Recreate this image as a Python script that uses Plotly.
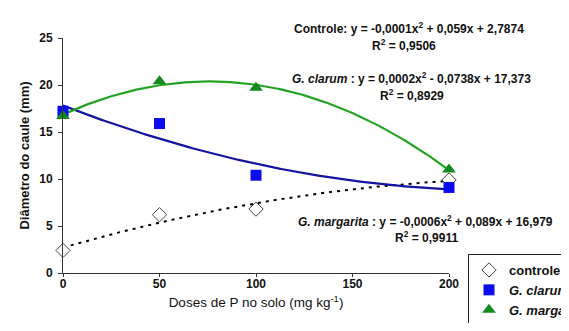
import numpy as np
import plotly.graph_objects as go

doses = [0, 50, 100, 200]
controle = [2.4, 6.2, 6.8, 9.9]
clarum = [17.2, 15.9, 10.4, 9.1]
margarita = [16.7, 20.4, 19.7, 11.0]

x_ticks = [0, 50, 100, 150, 200]
y_ticks = [0, 5, 10, 15, 20, 25]

xs = np.linspace(0, 200, 201)

def fit(y):
    c = np.polyfit(doses, y, 2)
    return np.polyval(c, xs)

FONT = "Liberation Sans, Arial, sans-serif"

fig = go.Figure()
fig.add_trace(go.Scatter(x=xs, y=fit(controle), mode="lines",
                         line=dict(color="black", width=2, dash="3px,5px"),
                         showlegend=False, hoverinfo="skip", cliponaxis=False))
fig.add_trace(go.Scatter(x=xs, y=fit(clarum), mode="lines",
                         line=dict(color="#1414a0", width=2.2),
                         showlegend=False, hoverinfo="skip", cliponaxis=False))
fig.add_trace(go.Scatter(x=xs, y=fit(margarita), mode="lines",
                         line=dict(color="#22a322", width=2.2),
                         showlegend=False, hoverinfo="skip", cliponaxis=False))
fig.add_trace(go.Scatter(x=doses, y=controle, mode="markers", name="<b>controle</b>",
                         marker=dict(symbol="diamond", size=11, color="white",
                                     line=dict(color="#444", width=1)),
                         cliponaxis=False))
fig.add_trace(go.Scatter(x=doses, y=clarum, mode="markers", name="<b><i>G. clarum</i></b>",
                         marker=dict(symbol="square", size=11, color="#0b0bf0",
                                     line=dict(width=0)),
                         cliponaxis=False))
fig.add_trace(go.Scatter(x=doses, y=margarita, mode="markers", name="<b><i>G. margarita</i></b>",
                         marker=dict(symbol="triangle-up", size=12, color="#138a1f",
                                     line=dict(width=0)),
                         cliponaxis=False))

# the plot div sits 8px inside the page (default body margin)
OFF = 8
W, H = 569 - 2 * OFF, 331 - 2 * OFF

def px(x):  # page pixel -> paper fraction (whole div is paper)
    return (x - OFF) / W

def py(y):
    return 1 - (y - OFF) / H

X0, X1, Y25, Y0 = 63, 449, 38, 273  # page pixels of the plot area

ann = [
    ("<b>Controle: y = -0,0001x<sup>2</sup> + 0,059x + 2,7874</b>", 409, 28),
    ("<b>R<sup>2</sup> = 0,9506</b>", 404, 45),
    ("<b><i>G. clarum</i> : y = 0,0002x<sup>2</sup> - 0,0738x + 17,373</b>", 411, 78),
    ("<b>R<sup>2</sup> = 0,8929</b>", 412, 95),
    ("<b><i>G. margarita</i> : y = -0,0006x<sup>2</sup> + 0,089x + 16,979</b>", 425, 221),
    ("<b>R<sup>2</sup> = 0,9911</b>", 426, 237),
]
annotations = [dict(text=t, x=px(x), y=py(y), xref="paper", yref="paper",
                    showarrow=False, xanchor="center", yanchor="middle",
                    font=dict(size=12, color="#111", family=FONT))
               for t, x, y in ann]

# empty axis pair used only to draw the chart's outer frame (top and left edges)
frame_axis = dict(showline=True, linecolor="#222", linewidth=1.2, ticks="",
                  showticklabels=False, showgrid=False, zeroline=False,
                  fixedrange=True, automargin=False)

fig.update_layout(
    width=W, height=H,
    margin=dict(l=0, r=0, t=0, b=0, pad=0, autoexpand=False),
    paper_bgcolor="white", plot_bgcolor="rgba(0,0,0,0)",
    font=dict(family=FONT, size=12, color="#111"),
    annotations=annotations,
    showlegend=True,
    legend=dict(x=px(468), y=py(254), xanchor="left", yanchor="top",
                borderwidth=1, bordercolor="#222", bgcolor="white",
                font=dict(size=13, family=FONT, color="#111"),
                itemsizing="trace", itemwidth=30, tracegroupgap=0),
    xaxis=dict(domain=[px(X0), px(X1)], range=[0, 200], tickvals=x_ticks,
               ticktext=[f"<b>{v}</b>" for v in x_ticks],
               showgrid=False, zeroline=False, showline=True, linecolor="#333",
               linewidth=1, ticks="outside", ticklen=3, tickcolor="#333",
               ticklabelstandoff=-3, tickfont=dict(size=12), automargin=False,
               title=dict(text="Doses de P no solo (mg kg<sup>-1</sup>)", standoff=7,
                          font=dict(size=13.5, family=FONT))),
    yaxis=dict(domain=[py(Y0), py(Y25)], range=[0, 25], tickvals=y_ticks,
               ticktext=[f"<b>{v}</b>" for v in y_ticks],
               showgrid=False, zeroline=False, showline=True, linecolor="#333",
               linewidth=1, ticks="outside", ticklen=4, tickcolor="#333",
               ticklabelstandoff=3, tickfont=dict(size=12), automargin=False,
               title=dict(text="<b>Diâmetro do caule (mm)</b>", standoff=6,
                          font=dict(size=13, family=FONT))),
    xaxis2=dict(domain=[px(9), 1], anchor="y2", side="top", range=[0, 1], **frame_axis),
    yaxis2=dict(domain=[0, py(11)], anchor="x2", side="left", range=[0, 1], **frame_axis),
)

fig.write_html("out.html")
